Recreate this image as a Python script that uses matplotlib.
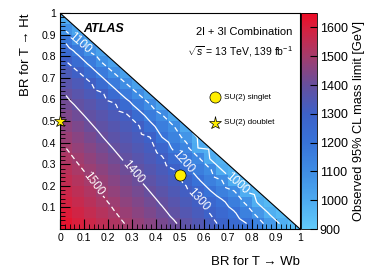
import numpy as np
import matplotlib
matplotlib.use('Agg')
import matplotlib.pyplot as plt
from matplotlib.colors import LinearSegmentedColormap, Normalize
from matplotlib.patches import Polygon
from matplotlib.ticker import MultipleLocator

plt.rcParams['font.family'] = ['Liberation Sans', 'DejaVu Sans']
plt.rcParams['mathtext.fontset'] = 'custom'
plt.rcParams['mathtext.rm'] = 'Liberation Sans'
plt.rcParams['mathtext.it'] = 'Liberation Sans:italic'

# BR grid (0.05 wide bins)
br_edges = np.linspace(0, 1, 21)
br_centers = 0.5 * (br_edges[1:] + br_edges[:-1])

# observed 95% CL mass limit [GeV], one row per BR(T->Ht) bin, starting at BR(T->Wb)=0
limit_rows = [
    [1628, 1601, 1575, 1549, 1522, 1497, 1474, 1452, 1430, 1407, 1379, 1349, 1320, 1286, 1244, 1203, 1138, 1056, 985, 952],
    [1610, 1583, 1557, 1531, 1504, 1481, 1458, 1435, 1412, 1386, 1357, 1328, 1298, 1254, 1209, 1148, 1069, 987, 955],
    [1591, 1565, 1538, 1512, 1487, 1464, 1441, 1418, 1393, 1365, 1336, 1308, 1265, 1216, 1157, 1086, 989, 958],
    [1573, 1547, 1520, 1494, 1471, 1447, 1423, 1399, 1372, 1344, 1316, 1270, 1205, 1150, 1104, 992, 962],
    [1555, 1528, 1502, 1478, 1453, 1429, 1405, 1378, 1351, 1324, 1285, 1210, 1150, 1100, 994, 967],
    [1536, 1510, 1485, 1460, 1435, 1410, 1385, 1358, 1332, 1300, 1225, 1160, 1110, 996, 972],
    [1518, 1492, 1467, 1441, 1416, 1391, 1365, 1339, 1310, 1245, 1170, 1120, 998, 978],
    [1500, 1474, 1448, 1422, 1397, 1371, 1346, 1320, 1270, 1180, 1130, 1000, 985],
    [1481, 1455, 1428, 1402, 1377, 1352, 1328, 1300, 1200, 1140, 1075, 992],
    [1460, 1434, 1408, 1383, 1359, 1334, 1310, 1230, 1158, 1101, 1010],
    [1439, 1413, 1388, 1363, 1339, 1314, 1246, 1165, 1108, 1020],
    [1418, 1392, 1366, 1339, 1312, 1244, 1166, 1105, 1025],
    [1397, 1368, 1339, 1310, 1243, 1167, 1102, 1030],
    [1368, 1338, 1308, 1242, 1168, 1099, 1033],
    [1335, 1305, 1242, 1170, 1096, 1035],
    [1302, 1241, 1172, 1093, 1035],
    [1243, 1175, 1090, 1035],
    [1178, 1087, 1030],
    [1082, 1020],
    [1000],
]

contour_levels = [1000, 1100, 1200, 1300, 1400, 1500]
contour_styles = ['solid', (0, (4, 2.5)), 'solid', (0, (4, 2.5)), 'solid', (0, (4, 2.5))]
label_pos = [(0.74, 0.21), (0.09, 0.87), (0.51, 0.31), (0.57, 0.13), (0.29, 0.25), (0.12, 0.19)]

# benchmark models
bench_names = ['SU(2) singlet', 'SU(2) doublet']
bench_wb = [0.5, 0.0]
bench_ht = [0.25, 0.5]
bench_markers = ['o', '*']
bench_sizes = [8, 9.5]

z = np.full((len(limit_rows), len(limit_rows)), np.nan)
for j, row in enumerate(limit_rows):
    z[j, :len(row)] = row
z = np.ma.masked_invalid(z)

# points for the contour lines (cell centres inside the triangle)
pt_x, pt_y, pt_v = [], [], []
for j, row in enumerate(limit_rows):
    for i, v in enumerate(row):
        pt_x.append(br_centers[i])
        pt_y.append(br_centers[j])
        pt_v.append(v)

cmap = LinearSegmentedColormap.from_list('lim', [
    (0.0, '#62cbfa'), (100 / 750, '#4daaf0'), (200 / 750, '#3f8de4'),
    (300 / 750, '#3873d8'), (400 / 750, '#3d61c8'), (500 / 750, '#664f9e'),
    (600 / 750, '#a43c6c'), (700 / 750, '#d8203e'), (1.0, '#ee0b25')])
norm = Normalize(vmin=900, vmax=1650)

fig = plt.figure(figsize=(3.74, 2.74), dpi=100)
ax = fig.add_axes([60 / 374, 1 - 229 / 274, 240 / 374, 216 / 274])
cax = fig.add_axes([301 / 374, 1 - 229 / 274, 16 / 374, 216 / 274])

mesh = ax.pcolormesh(br_edges, br_edges, z, cmap=cmap, norm=norm, shading='flat')
cs = ax.tricontour(pt_x, pt_y, pt_v, levels=contour_levels, colors='white',
                   linestyles=contour_styles, linewidths=0.9)
ax.clabel(cs, fmt='%d', fontsize=8.5, colors='white', manual=label_pos, inline=True, inline_spacing=2)

# white out the forbidden region above BR sum = 1
ax.add_patch(Polygon([(0, 1), (1, 1), (1, 0)], closed=True, facecolor='white', edgecolor='none', zorder=3))
ax.plot([0, 1], [1, 0], color='black', lw=0.8, zorder=4)

for k in range(len(bench_names)):
    ax.plot(bench_wb[k], bench_ht[k], marker=bench_markers[k], ms=bench_sizes[k], color='#ffee00',
            mec='black', mew=0.5, ls='none', clip_on=False, zorder=6)
    ax.plot(0.646, 0.611 - 0.12 * k, marker=bench_markers[k], ms=bench_sizes[k], color='#ffee00',
            mec='black', mew=0.5, ls='none', zorder=6)
    ax.text(0.683, 0.611 - 0.12 * k, bench_names[k], fontsize=5.9, va='center', ha='left', zorder=6)

ax.text(0.096, 0.925, 'ATLAS', fontsize=9, fontweight='bold', fontstyle='italic', va='center', zorder=6)
ax.text(0.967, 0.912, '2l + 3l Combination', fontsize=8, ha='right', va='center', zorder=6)
ax.text(0.97, 0.82, r'$\sqrt{s}$ = 13 TeV, 139 fb$^{-1}$', fontsize=7.5, ha='right', va='center', zorder=6)

ax.set_xlim(0, 1)
ax.set_ylim(0, 1)
ax.set_xticks(np.arange(0, 1.01, 0.1))
ax.set_xticklabels(['0', '0.1', '0.2', '0.3', '0.4', '0.5', '0.6', '0.7', '0.8', '0.9', '1'])
ax.set_yticks(np.arange(0.1, 1.01, 0.1))
ax.set_yticklabels(['0.1', '0.2', '0.3', '0.4', '0.5', '0.6', '0.7', '0.8', '0.9', '1'])
ax.xaxis.set_minor_locator(MultipleLocator(0.02))
ax.yaxis.set_minor_locator(MultipleLocator(0.02))
ax.tick_params(which='both', direction='in', labelsize=7.6, colors='black')
ax.tick_params(which='major', length=7, width=0.8, pad=3)
ax.tick_params(which='minor', length=3.5, width=0.6)
for sp in ax.spines.values():
    sp.set_linewidth(0.8)
    sp.set_zorder(5)

ax.set_xlabel('BR for T \u2192 Wb', fontsize=9.5, loc='right', labelpad=9)
ax.set_ylabel('BR for T \u2192 Ht', fontsize=9.5, loc='top', labelpad=7)

cb = fig.colorbar(mesh, cax=cax)
cb.set_ticks(range(900, 1700, 100))
cax.tick_params(direction='in', length=5, width=0.8, labelsize=9, pad=2)
cax.minorticks_off()
cb.outline.set_linewidth(0.6)
cb.set_label('Observed 95% CL mass limit [GeV]', fontsize=9.2, labelpad=4)

fig.savefig('out.png', dpi=100)
